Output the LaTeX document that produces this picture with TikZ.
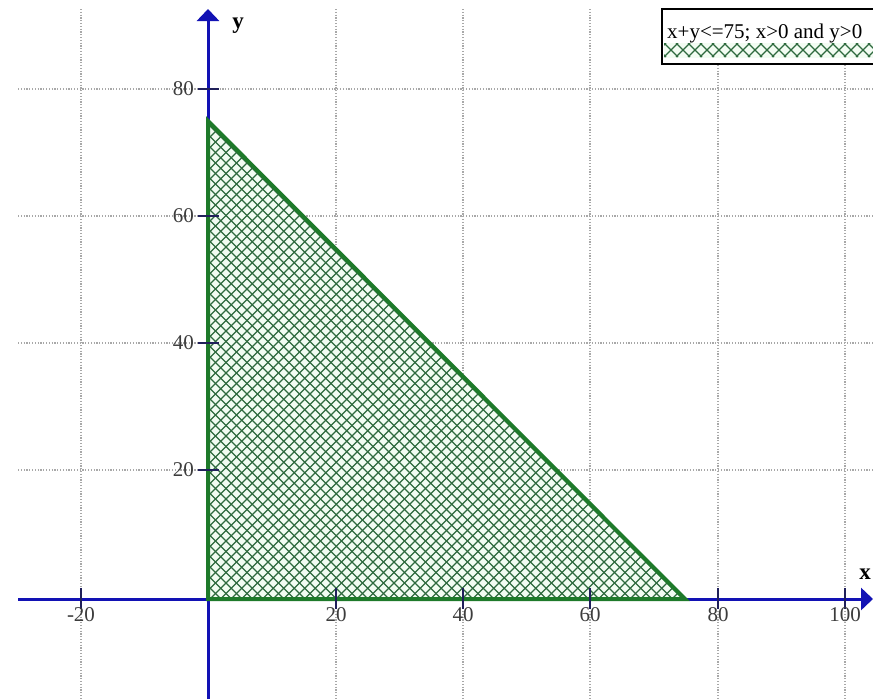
\documentclass[tikz,border=0pt]{standalone}
\usepackage{fontspec}
\setmainfont{Liberation Serif}
\usetikzlibrary{arrows.meta}
\definecolor{axisblue}{HTML}{1212B4}
\definecolor{edgegreen}{HTML}{1E7A2A}
\definecolor{hatchgreen}{HTML}{2E6A3E}
\definecolor{fillgreen}{HTML}{F2FCF2}
\definecolor{gridgray}{HTML}{A8A8A8}
\definecolor{ticknavy}{HTML}{20205A}
\definecolor{labelgray}{HTML}{3C3C3C}
\tikzset{
 gridline/.style={gridgray, line width=1.2pt, dash pattern=on 1.2pt off 1.6pt},
 axisline/.style={axisblue, line width=3pt, -{Triangle[width=22pt,length=12pt]}},
 tickline/.style={ticknavy, line width=1.5pt},
 ticklabel/.style={text=labelgray, font=\fontsize{21}{23}\selectfont, inner sep=0pt},
 axislabel/.style={font=\bfseries\fontsize{23}{25}\selectfont, inner sep=0pt},
 hatch/.style={hatchgreen, line width=1.15pt},
 regionedge/.style={edgegreen, line width=4pt, line join=miter},
 legendbox/.style={black, line width=1.5pt},
}
\begin{document}
\begin{tikzpicture}[x=1pt,y=-1pt]
\useasboundingbox (0,0) rectangle (873,699);
% grid
\foreach \gx in {81,336,463,590,718,845} \draw[gridline] (\gx,9) -- (\gx,699);
\foreach \gy in {89,216,343,470} \draw[gridline] (18,\gy) -- (873,\gy);
% region
\coordinate (O) at (208,599);
\coordinate (A) at (208,121);
\coordinate (B) at (685,599);
\fill[fillgreen] (O) -- (A) -- (B) -- cycle;
\begin{scope}
\clip (O) -- (A) -- (B) -- cycle;
\foreach \c in {-320,-309.5,...,1210} {
  \draw[hatch] (\c,100) -- ++(520,520);
  \draw[hatch] (\c,100) -- ++(-520,520);
}
\end{scope}
% axes
\coordinate (xs) at (18,599);
\coordinate (xe) at (873,599);
\coordinate (ys) at (208,699);
\coordinate (ye) at (208,9);
\draw[axisline] (xs) -- (xe);
\draw[axisline] (ys) -- (ye);
% region edge
\draw[regionedge] (O) -- (A) -- (B) -- cycle;
% ticks and labels
\foreach \gx/\lab in {81/-20,336/20,463/40,590/60,718/80,845/100} {
  \draw[tickline] (\gx,588) -- (\gx,609);
  \node[ticklabel, anchor=north] (xl\lab) at (\gx,607) {\lab};
}
\foreach \gy/\lab in {89/80,216/60,343/40,470/20} {
  \draw[tickline] (198,\gy) -- (219,\gy);
  \node[ticklabel, anchor=east] (yl\lab) at (194,\gy) {\lab};
}
\node[axislabel] (xname) at (865,574) {x};
\node[axislabel] (yname) at (238,26) {y};
% legend
\fill[white] (662,9) rectangle (880,64);
\fill[fillgreen] (664,43) rectangle (873,58);
\begin{scope}
\clip (664,43) rectangle (873,58);
\foreach \c in {652,664,...,880} {
  \draw[hatchgreen, line width=1.1pt] (\c,43) -- ++(14,14);
  \draw[hatchgreen, line width=1.1pt] (\c+14,43) -- ++(-14,14);
}
\end{scope}
\draw[legendbox] (662,9) rectangle (880,64);
\node[anchor=base west, inner sep=0pt, font=\fontsize{21}{23}\selectfont] (legtext) at (667,38) {x+y<=75; x>0 and y>0};
\end{tikzpicture}
\end{document}
